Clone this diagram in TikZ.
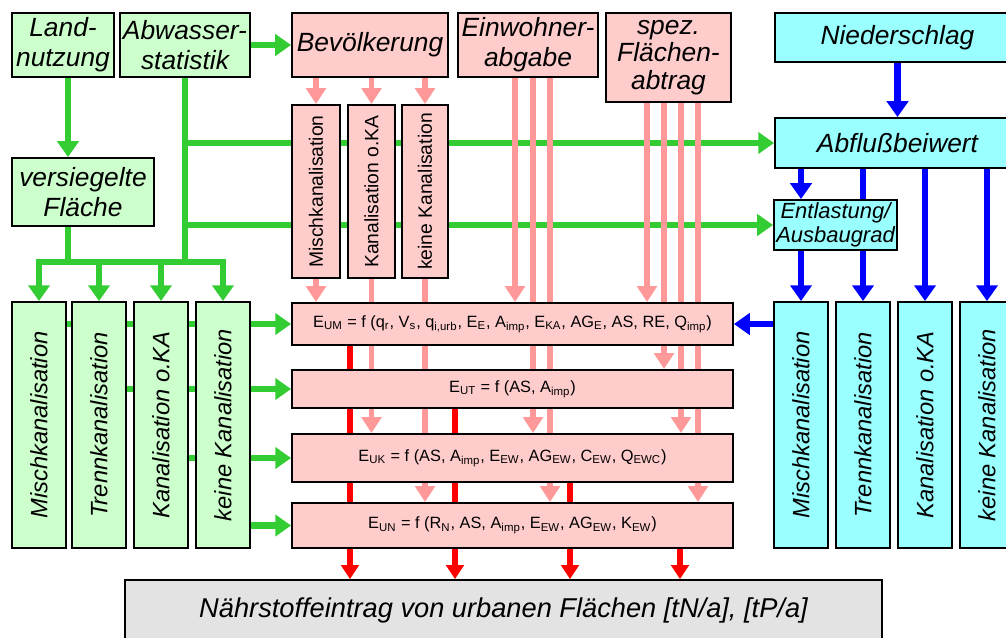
\documentclass[tikz,border=0pt]{standalone}
\usepackage{fontspec}
\setmainfont{Liberation Sans}
\usepackage{graphicx}
\usetikzlibrary{positioning, arrows.meta, calc}
\definecolor{GreenLine}{HTML}{33CC33}
\definecolor{GreenFill}{HTML}{CCFFCC}
\definecolor{PinkFill}{HTML}{FFCCCC}
\definecolor{PinkLine}{HTML}{FF9999}
\definecolor{CyanFill}{HTML}{99FFFF}
\definecolor{GrayFill}{HTML}{E3E3E3}
\pgfdeclarelayer{background}
\pgfsetlayers{background,main}

\begin{document}
\begin{tikzpicture}[x=0.02cm, y=-0.02cm,
  box/.style={rectangle, draw=black, line width=1.1pt, inner sep=0pt, align=center},
  gbox/.style={box, fill=GreenFill},
  pbox/.style={box, fill=PinkFill},
  cbox/.style={box, fill=CyanFill},
  big/.style={font=\fontsize{15}{17}\selectfont\itshape},
  vert/.style={font=\fontsize{13.5}{15}\selectfont\itshape, minimum width=1.08cm, minimum height=4.92cm},
  pvert/.style={font=\fontsize{11}{12}\selectfont, minimum height=3.46cm},
  formula/.style={pbox, font=\fontsize{9.3}{10}\selectfont, minimum width=8.82cm},
  gline/.style={line width=3.6pt, draw=GreenLine},
  garr/.style={gline, -{Triangle[length=9pt, width=12pt]}},
  parr/.style={-{Triangle[length=9pt, width=11pt]}, line width=3.4pt, draw=PinkLine},
  barr/.style={-{Triangle[length=9pt, width=12pt]}, line width=3.6pt, draw=blue},
  rarr/.style={-{Triangle[length=8pt, width=10pt]}, line width=3.2pt, draw=red}
]
\useasboundingbox (0,0) rectangle (1006,637);

% Eingangsdaten
\node[gbox, big, minimum width=2.04cm, minimum height=1.28cm] (land) at (63,45) {Land-\\nutzung};
\node[gbox, big, minimum width=2.6cm, minimum height=1.28cm]  (abw)  at (185,45) {Abwasser-\\statistik};
\node[gbox, big, minimum width=2.84cm, minimum height=1.36cm] (vers) at (83,192) {versiegelte\\Fläche};
\node[pbox, big, minimum width=3.12cm, minimum height=1.28cm] (bev)  at (370,45) {Bevölkerung};
\node[pbox, big, minimum width=2.8cm, minimum height=1.28cm]  (einw) at (528,45) {Einwohner-\\abgabe};
\node[pbox, font=\fontsize{15}{15.5}\selectfont\itshape, minimum width=2.5cm, minimum height=1.78cm] (spez) at (668.5,57.5) {spez.\\Flächen-\\abtrag};
\node[cbox, big, minimum width=4.9cm, minimum height=0.98cm] (nied) at (897.5,37.5) {Niederschlag};
\node[cbox, big, minimum width=4.9cm, minimum height=1.0cm]  (abfl) at (897.5,143) {Abflußbeiwert};
\node[cbox, font=\fontsize{12.5}{13.5}\selectfont\itshape, minimum width=2.46cm, minimum height=1.0cm] (entl) at (835.5,225) {Entlastung/\\Ausbaugrad};

% Bevoelkerung nach Kanalisation
\node[pbox, pvert, minimum width=0.96cm] (pmisch) at (316,191.5)   {\rotatebox{90}{Mischkanalisation}};
\node[pbox, pvert, minimum width=0.94cm] (pkan)   at (371.5,191.5) {\rotatebox{90}{Kanalisation o.KA}};
\node[pbox, pvert, minimum width=0.92cm] (pkein)  at (425,191.5)   {\rotatebox{90}{keine Kanalisation}};

% Flaechen nach Kanalisation
\node[gbox, vert] (gmisch) at (39,425)  {\rotatebox{90}{Mischkanalisation}};
\node[gbox, vert] (gtrenn) at (99,425)  {\rotatebox{90}{Trennkanalisation}};
\node[gbox, vert] (gkan)   at (161,425) {\rotatebox{90}{Kanalisation o.KA}};
\node[gbox, vert] (gkein)  at (223,425) {\rotatebox{90}{keine Kanalisation}};
\node[cbox, vert] (cmisch) at (801,425) {\rotatebox{90}{Mischkanalisation}};
\node[cbox, vert] (ctrenn) at (863,425) {\rotatebox{90}{Trennkanalisation}};
\node[cbox, vert] (ckan)   at (925,425) {\rotatebox{90}{Kanalisation o.KA}};
\node[cbox, vert] (ckein)  at (987,425) {\rotatebox{90}{keine Kanalisation}};

% Eintragsfunktionen
\node[formula, minimum height=0.84cm] (f1) at (512.5,324) {E\textsubscript{UM} = f (q\textsubscript{r}, V\textsubscript{s}, q\textsubscript{i,urb}, E\textsubscript{E}, A\textsubscript{imp}, E\textsubscript{KA}, AG\textsubscript{E}, AS, RE, Q\textsubscript{imp})};
\node[formula, minimum height=0.76cm] (f2) at (512.5,389) {E\textsubscript{UT} = f (AS, A\textsubscript{imp})};
\node[formula, minimum height=0.96cm] (f3) at (512.5,458) {E\textsubscript{UK} = f (AS, A\textsubscript{imp}, E\textsubscript{EW}, AG\textsubscript{EW}, C\textsubscript{EW}, Q\textsubscript{EWC})};
\node[formula, minimum height=0.9cm]  (f4) at (512.5,525.5) {E\textsubscript{UN} = f (R\textsubscript{N}, AS, A\textsubscript{imp}, E\textsubscript{EW}, AG\textsubscript{EW}, K\textsubscript{EW})};
\node[box, fill=GrayFill, font=\fontsize{15.5}{18}\selectfont\itshape, minimum width=15.14cm, minimum height=1.2cm] (naehr) at (503.5,610) {Nährstoffeintrag von urbanen Flächen [tN/a], [tP/a]};

% Spalten der Verbindungen
\coordinate (gcol) at (68,0);
\coordinate (gbus) at (0,262);
\coordinate (e1) at (515,0);
\coordinate (e2) at (533,0);
\coordinate (e3) at (550,0);
\coordinate (s1) at (647,0);
\coordinate (s2) at (664,0);
\coordinate (s3) at (681,0);
\coordinate (s4) at (698,0);
\coordinate (r1) at (350,0);
\coordinate (r2) at (455,0);
\coordinate (r3) at (570,0);
\coordinate (r4) at (680,0);

\begin{pgfonlayer}{background}
% gruen
\draw[garr] (land.south -| gcol) -- (vers.north -| gcol);
\draw[garr] (abw.east) -- (bev.west);
\draw[gline] (vers.south -| gcol) -- (gbus -| gcol);
\draw[gline] (abw.south) -- (abw.south |- gbus);
\draw[gline] ([xshift=-1.8pt]gmisch.north |- gbus) -- ([xshift=1.8pt]gkein.north |- gbus);
\foreach \n in {gmisch, gtrenn, gkan, gkein}
  \draw[garr] (\n.north |- gbus) -- (\n.north);
\draw[garr] (abw.south |- abfl.west) -- (abfl.west);
\draw[garr] (abw.south |- entl.west) -- (entl.west);
\draw[garr] (gmisch.east |- f1.west) -- (f1.west);
\draw[garr] (gtrenn.east |- f2.west) -- (f2.west);
\draw[garr] (gkan.east |- f3.west) -- (f3.west);
\draw[garr] (gkein.east |- f4.west) -- (f4.west);
% rosa
\foreach \n in {pmisch, pkan, pkein}
  \draw[parr] (bev.south -| \n) -- (\n.north);
\draw[parr] (pmisch.south) -- (f1.north -| pmisch);
\draw[parr] (pkan.south) -- (f3.north -| pkan);
\draw[parr] (pkein.south) -- (f4.north -| pkein);
\draw[parr] (einw.south -| e1) -- (f1.north -| e1);
\draw[parr] (einw.south -| e2) -- (f3.north -| e2);
\draw[parr] (einw.south -| e3) -- (f4.north -| e3);
\draw[parr] (spez.south -| s1) -- (f1.north -| s1);
\draw[parr] (spez.south -| s2) -- (f2.north -| s2);
\draw[parr] (spez.south -| s3) -- (f3.north -| s3);
\draw[parr] (spez.south -| s4) -- (f4.north -| s4);
% blau
\draw[barr] (nied) -- (abfl);
\draw[barr] (abfl.south -| cmisch) -- (entl.north -| cmisch);
\draw[barr] (entl.south -| cmisch) -- (cmisch.north);
\foreach \n in {ctrenn, ckan, ckein}
  \draw[barr] (abfl.south -| \n) -- (\n.north);
\draw[barr] (cmisch.west |- f1.east) -- (f1.east);
% rot
\draw[rarr] (f1.south -| r1) -- (naehr.north -| r1);
\draw[rarr] (f2.south -| r2) -- (naehr.north -| r2);
\draw[rarr] (f3.south -| r3) -- (naehr.north -| r3);
\draw[rarr] (f4.south -| r4) -- (naehr.north -| r4);
\end{pgfonlayer}
\end{tikzpicture}
\end{document}
